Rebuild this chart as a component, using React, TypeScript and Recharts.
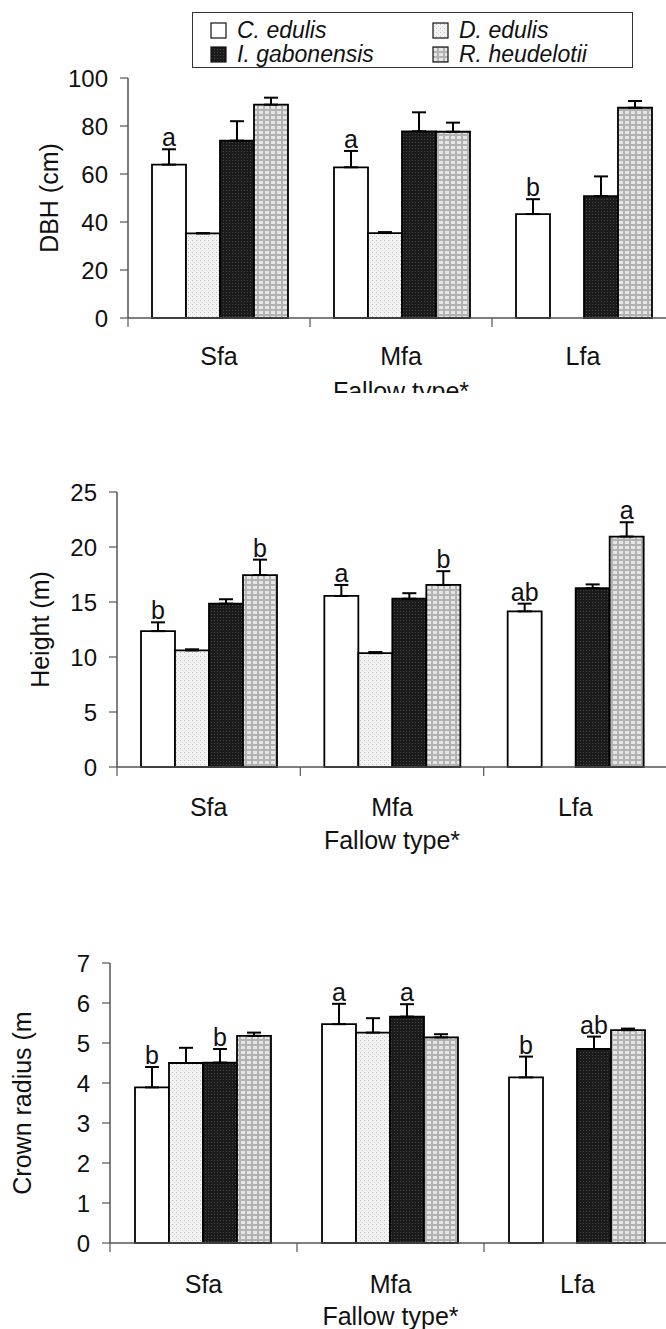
import React from "react";
import { Bar, BarChart, ErrorBar, LabelList, Legend, XAxis, YAxis } from "recharts";

const fallowTypes = ["Sfa", "Mfa", "Lfa"];
const speciesNames = ["C. edulis", "D. edulis", "I. gabonensis", "R. heudelotii"];

// DBH (cm): means and upper error per fallow type
const dbhCedulis = [63.9, 62.8, 43.3];
const dbhCedulisErr = [6.4, 6.8, 6.2];
const dbhDedulis = [35.3, 35.4, null];
const dbhDedulisErr = [0, 0.4, null];
const dbhIgabonensis = [73.9, 77.8, 50.8];
const dbhIgabonensisErr = [8.1, 7.9, 8.2];
const dbhRheudelotii = [88.9, 77.6, 87.6];
const dbhRheudelotiiErr = [2.9, 3.8, 2.8];
const dbhCedulisLetters = ["a", "a", "b"];

// Height (m)
const heightCedulis = [12.35, 15.55, 14.15];
const heightCedulisErr = [0.8, 1.0, 0.7];
const heightDedulis = [10.6, 10.35, null];
const heightDedulisErr = [0.1, 0.1, null];
const heightIgabonensis = [14.85, 15.3, 16.25];
const heightIgabonensisErr = [0.4, 0.5, 0.35];
const heightRheudelotii = [17.45, 16.55, 20.95];
const heightRheudelotiiErr = [1.4, 1.25, 1.3];
const heightCedulisLetters = ["b", "a", "ab"];
const heightRheudelotiiLetters = ["b", "b", "a"];

// Crown radius (m)
const crownCedulis = [3.89, 5.47, 4.14];
const crownCedulisErr = [0.51, 0.51, 0.52];
const crownDedulis = [4.5, 5.26, null];
const crownDedulisErr = [0.38, 0.36, null];
const crownIgabonensis = [4.51, 5.66, 4.85];
const crownIgabonensisErr = [0.34, 0.31, 0.31];
const crownRheudelotii = [5.18, 5.14, 5.32];
const crownRheudelotiiErr = [0.08, 0.08, 0.04];
const crownCedulisLetters = ["b", "a", "b"];
const crownIgabonensisLetters = ["b", "a", "ab"];

const dbhTicks = [0, 20, 40, 60, 80, 100];
const heightTicks = [0, 5, 10, 15, 20, 25];
const crownTicks = [0, 1, 2, 3, 4, 5, 6, 7];

const textColor = "#111";
const axisColor = "#555";
const font = '"Liberation Sans", Arial, Helvetica, sans-serif';

const series = [
  { key: "ced", fill: "#ffffff" },
  { key: "ded", fill: "url(#patD)" },
  { key: "iga", fill: "url(#patI)" },
  { key: "rhe", fill: "url(#patR)" },
];

type Row = Record<string, any>;

const upper = (e: number | null) => (e == null ? null : [0, e]);

function buildRows(
  c: (number | null)[], cErr: (number | null)[],
  d: (number | null)[], dErr: (number | null)[],
  i: (number | null)[], iErr: (number | null)[],
  r: (number | null)[], rErr: (number | null)[]
): Row[] {
  return fallowTypes.map((type, k) => ({
    type,
    ced: c[k], cedErr: upper(cErr[k]),
    ded: d[k], dedErr: upper(dErr[k]),
    iga: i[k], igaErr: upper(iErr[k]),
    rhe: r[k], rheErr: upper(rErr[k]),
  }));
}

const dbhRows = buildRows(dbhCedulis, dbhCedulisErr, dbhDedulis, dbhDedulisErr, dbhIgabonensis, dbhIgabonensisErr, dbhRheudelotii, dbhRheudelotiiErr);
const heightRows = buildRows(heightCedulis, heightCedulisErr, heightDedulis, heightDedulisErr, heightIgabonensis, heightIgabonensisErr, heightRheudelotii, heightRheudelotiiErr);
const crownRows = buildRows(crownCedulis, crownCedulisErr, crownDedulis, crownDedulisErr, crownIgabonensis, crownIgabonensisErr, crownRheudelotii, crownRheudelotiiErr);

// letter sits just above the error bar cap
function letterContent(rows: Row[], key: string, letters: string[]) {
  return (props: any) => {
    const index = props.index;
    const letter = letters[index];
    if (!letter) return null;
    const vb = props.viewBox ?? props;
    const value = rows[index][key];
    const err = rows[index][key + "Err"]?.[1] ?? 0;
    const h = Math.abs(vb.height);
    const top = Math.min(vb.y, vb.y + vb.height);
    const errTop = top - (err * h) / value;
    return (
      <text x={vb.x + vb.width / 2} y={errTop - 3} textAnchor="middle" fontSize={25} fill={textColor} fontFamily={font}>
        {letter}
      </text>
    );
  };
}

// category label plus a tick mark on the left edge of each category band
function categoryTick(halfBand: number, gap: number) {
  return (props: any) => {
    const { x, y, payload } = props;
    return (
      <g>
        <line x1={x - halfBand} x2={x - halfBand} y1={y} y2={y + 9} stroke={axisColor} strokeWidth={1.2} />
        <text x={x} y={y + gap} dy="0.71em" textAnchor="middle" fontSize={25} fill={textColor} fontFamily={font}>
          {payload.value}
        </text>
      </g>
    );
  };
}

function LegendBox() {
  const fills = ["#ffffff", "url(#patD)", "url(#patI)", "url(#patR)"];
  const spots = [
    { x: 19, y: 11 },
    { x: 241, y: 11 },
    { x: 19, y: 35 },
    { x: 241, y: 35 },
  ];
  return (
    <svg width={441} height={56} style={{ display: "block" }}>
      <rect x={0.5} y={0.5} width={440} height={55} fill="#fff" stroke="#333" strokeWidth={1} />
      {speciesNames.map((name, i) => (
        <g key={name}>
          <rect x={spots[i].x} y={spots[i].y} width={15} height={15} fill={fills[i]} stroke="#111" strokeWidth={1.2} />
          <text x={spots[i].x + 26} y={spots[i].y + 15} fontSize={23} fontStyle="italic" fill={textColor} fontFamily={font}>
            {name}
          </text>
        </g>
      ))}
    </svg>
  );
}

type PanelProps = {
  rows: Row[];
  ticks: number[];
  yLabel: string;
  yLabelOffset: number;
  width: number;
  height: number;
  marginTop: number;
  axisWidth: number;
  labelGap: number;
  categoryGap: number;
  letters: Record<string, string[]>;
  legend?: boolean;
};

const RIGHT = 6;

function Panel({ rows, ticks, yLabel, yLabelOffset, width, height, marginTop, axisWidth, labelGap, categoryGap, letters, legend }: PanelProps) {
  const max = ticks[ticks.length - 1];
  const halfBand = (width - RIGHT - axisWidth) / fallowTypes.length / 2;
  return (
    <BarChart
      width={width}
      height={height}
      data={rows}
      margin={{ top: marginTop, right: RIGHT, bottom: 0, left: 0 }}
      barGap={0}
      barCategoryGap={categoryGap}
    >
      <XAxis
        dataKey="type"
        height={90}
        axisLine={{ stroke: axisColor, strokeWidth: 1.5 }}
        tickLine={false}
        tickSize={0}
        tickMargin={0}
        interval={0}
        tick={categoryTick(halfBand, labelGap)}
        label={{ value: "Fallow type*", position: "insideTop", offset: 64, style: { fontSize: 25, fill: textColor } }}
      />
      <YAxis
        width={axisWidth}
        domain={[0, max]}
        ticks={ticks}
        interval={0}
        axisLine={{ stroke: axisColor, strokeWidth: 1.5 }}
        tickLine={{ stroke: axisColor, strokeWidth: 1.2 }}
        tickSize={8}
        tickMargin={12}
        tick={{ fontSize: 24, fill: textColor }}
        label={{
          value: yLabel,
          angle: -90,
          position: "insideLeft",
          offset: yLabelOffset,
          style: { textAnchor: "middle", fontSize: 25, fill: textColor },
        }}
      />
      {legend && (
        <Legend
          layout="horizontal"
          verticalAlign="middle"
          content={() => <LegendBox />}
          wrapperStyle={{ top: 12, left: 192, width: 441, height: 56 }}
        />
      )}
      {series.map((s) => (
        <Bar key={s.key} dataKey={s.key} fill={s.fill} stroke="#000" strokeWidth={1.8} isAnimationActive={false}>
          <ErrorBar dataKey={s.key + "Err"} width={7} strokeWidth={2} stroke="#000" direction="y" isAnimationActive={false} />
          {letters[s.key] && (
            <LabelList dataKey={s.key} content={letterContent(rows, s.key, letters[s.key])} />
          )}
        </Bar>
      ))}
    </BarChart>
  );
}

export default function App() {
  return (
    <div
      style={{
        position: "absolute",
        top: 0,
        left: 0,
        width: 666,
        height: 1329,
        overflow: "hidden",
        background: "#fff",
        fontFamily: font,
      }}
    >
      <svg width={0} height={0} style={{ position: "absolute" }}>
        <defs>
          <pattern id="patD" width="4" height="4" patternUnits="userSpaceOnUse">
            <rect width="4" height="4" fill="#f3f3f3" />
            <rect x="0" y="0" width="1" height="1" fill="#bdbdbd" />
            <rect x="2" y="2" width="1" height="1" fill="#d6d6d6" />
          </pattern>
          <pattern id="patI" width="3" height="3" patternUnits="userSpaceOnUse">
            <rect width="3" height="3" fill="#1b1b1b" />
            <rect x="1" y="1" width="1" height="1" fill="#454545" />
          </pattern>
          <pattern id="patR" width="6" height="5" patternUnits="userSpaceOnUse">
            <rect width="6" height="5" fill="#b2b2b2" />
            <rect x="1" y="1" width="4" height="3" fill="#e6e6e6" />
          </pattern>
        </defs>
      </svg>

      <div style={{ position: "absolute", top: 0, left: 0, width: 666, height: 393, overflow: "hidden" }}>
        <Panel
          rows={dbhRows}
          ticks={dbhTicks}
          yLabel="DBH (cm)"
          yLabelOffset={49}
          width={680}
          height={408}
          marginTop={78}
          axisWidth={128}
          labelGap={29}
          categoryGap={24}
          letters={{ ced: dbhCedulisLetters }}
          legend
        />
      </div>

      <div style={{ position: "absolute", top: 400, left: 0, width: 666, height: 480, overflow: "hidden" }}>
        <Panel
          rows={heightRows}
          ticks={heightTicks}
          yLabel="Height (m)"
          yLabelOffset={40}
          width={673}
          height={457}
          marginTop={92}
          axisWidth={117}
          labelGap={31}
          categoryGap={24}
          letters={{ ced: heightCedulisLetters, rhe: heightRheudelotiiLetters }}
        />
      </div>

      <div style={{ position: "absolute", top: 880, left: 0, width: 666, height: 449, overflow: "hidden" }}>
        <Panel
          rows={crownRows}
          ticks={crownTicks}
          yLabel="Crown radius (m"
          yLabelOffset={22}
          width={677}
          height={453}
          marginTop={83}
          axisWidth={110}
          labelGap={32}
          categoryGap={25}
          letters={{ ced: crownCedulisLetters, iga: crownIgabonensisLetters }}
        />
      </div>
    </div>
  );
}
